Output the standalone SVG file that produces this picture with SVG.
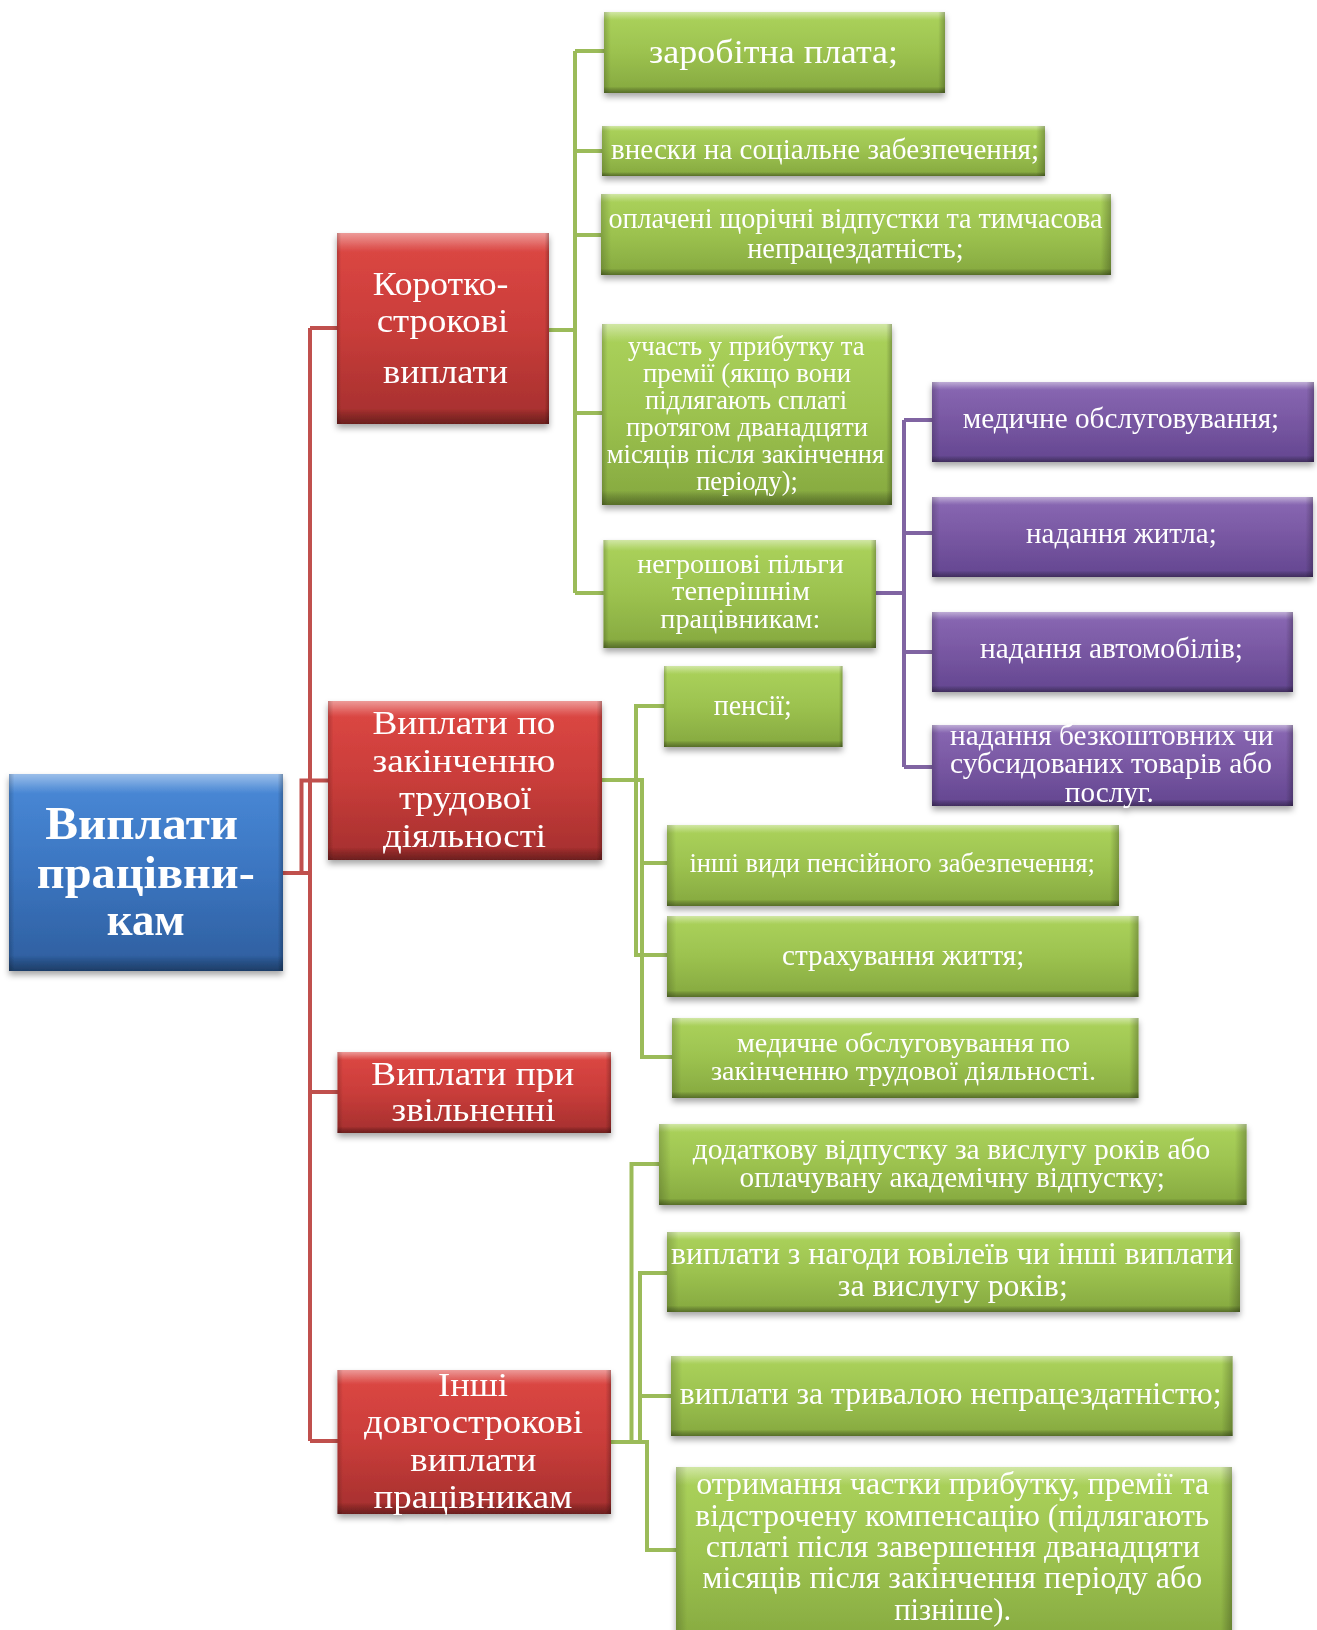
<svg xmlns="http://www.w3.org/2000/svg" width="1317" height="1630" viewBox="0 0 1317 1630">
<defs>
<linearGradient id="gG" x1="0" y1="0" x2="0" y2="1"><stop offset="0" stop-color="#acd35c"/><stop offset="0.5" stop-color="#9cc24f"/><stop offset="1" stop-color="#85a83f"/></linearGradient>
<linearGradient id="gR" x1="0" y1="0" x2="0" y2="1"><stop offset="0" stop-color="#de4844"/><stop offset="0.5" stop-color="#c93d3a"/><stop offset="1" stop-color="#a42f2e"/></linearGradient>
<linearGradient id="gB" x1="0" y1="0" x2="0" y2="1"><stop offset="0" stop-color="#4a8ad8"/><stop offset="0.5" stop-color="#3b75c0"/><stop offset="1" stop-color="#2e5e9e"/></linearGradient>
<linearGradient id="gP" x1="0" y1="0" x2="0" y2="1"><stop offset="0" stop-color="#8a69b4"/><stop offset="0.5" stop-color="#7857a2"/><stop offset="1" stop-color="#634690"/></linearGradient>
<linearGradient id="bevV" x1="0" y1="0" x2="0" y2="1"><stop offset="0" stop-color="#fff" stop-opacity="0.45"/><stop offset="0.07" stop-color="#fff" stop-opacity="0.12"/><stop offset="0.1" stop-color="#fff" stop-opacity="0"/><stop offset="0.92" stop-color="#000" stop-opacity="0"/><stop offset="0.95" stop-color="#000" stop-opacity="0.15"/><stop offset="1" stop-color="#000" stop-opacity="0.35"/></linearGradient>
<linearGradient id="bevH" x1="0" y1="0" x2="1" y2="0"><stop offset="0" stop-color="#000" stop-opacity="0.18"/><stop offset="0.02" stop-color="#000" stop-opacity="0"/><stop offset="0.98" stop-color="#000" stop-opacity="0"/><stop offset="1" stop-color="#000" stop-opacity="0.25"/></linearGradient>
<filter id="sh" x="-10%" y="-10%" width="120%" height="130%"><feDropShadow dx="0" dy="4" stdDeviation="3" flood-color="#000" flood-opacity="0.35"/></filter>
</defs>
<style>
.b{filter:url(#sh)}
.g{fill:url(#gG)} .r{fill:url(#gR)} .bl{fill:url(#gB)} .p{fill:url(#gP)}
.v{fill:url(#bevV)} .h{fill:url(#bevH)}
text{font-family:"Liberation Serif","Times New Roman",serif;fill:#fff;text-anchor:middle}
.root{font-weight:bold;font-size:46px}
.lr{stroke:#c0504d;stroke-width:4;fill:none}
.lg{stroke:#9bbb59;stroke-width:4;fill:none}
.lp{stroke:#8064a2;stroke-width:4;fill:none}
</style>

<g id="connectors">
<path class="lr" d="M310,328 V1441 M310,328 H338 M310,1092 H338 M310,1441 H338 M283,873 H310 M301.5,872 V780.5 H328"/>
<path class="lg" d="M575,51 V593 M575,51 H604 M575,151 H602 M575,235 H601 M575,413 H602 M575,593 H604 M549,330 H575"/>
<path class="lp" d="M876,593 H904 M904,420 V767 M904,420 H932 M904,533 H932 M904,652 H932 M904,767 H932"/>
<path class="lg" d="M602,780 H642 V1057 H672 M664,706 H636 V955 H667 M642,863 H667"/>
<path class="lg" d="M611,1442 H647 V1550 H676 M631.5,1442 V1164 H659 M640,1442 V1273 H667 M640,1396 H671"/>
</g>

<g id="root" class="b"><rect class="bl" x="9" y="774" width="274" height="197"/><rect class="v" x="9" y="774" width="274" height="197"/><rect class="h" x="9" y="774" width="274" height="197"/>
<text class="root" x="141.7" y="839" textLength="193" lengthAdjust="spacingAndGlyphs">Виплати</text>
<text class="root" x="145.8" y="888" textLength="218" lengthAdjust="spacingAndGlyphs">працівни-</text>
<text class="root" x="145.8" y="935" textLength="78" lengthAdjust="spacingAndGlyphs">кам</text></g>

<g id="short" class="b" font-size="33"><rect class="r" x="337" y="233" width="212" height="191"/><rect class="v" x="337" y="233" width="212" height="191"/><rect class="h" x="337" y="233" width="212" height="191"/>
<text x="440.5" y="295" textLength="135.6" lengthAdjust="spacingAndGlyphs">Коротко-</text>
<text x="442.5" y="332" textLength="131.7" lengthAdjust="spacingAndGlyphs">строкові</text>
<text x="445.5" y="383" textLength="125" lengthAdjust="spacingAndGlyphs">виплати</text></g>

<g id="post" class="b" font-size="33"><rect class="r" x="328" y="701" width="274" height="159"/><rect class="v" x="328" y="701" width="274" height="159"/><rect class="h" x="328" y="701" width="274" height="159"/>
<text x="464" y="734" textLength="183" lengthAdjust="spacingAndGlyphs">Виплати по</text>
<text x="464" y="772" textLength="183" lengthAdjust="spacingAndGlyphs">закінченню</text>
<text x="465" y="809" textLength="132" lengthAdjust="spacingAndGlyphs">трудової</text>
<text x="464.5" y="847" textLength="163" lengthAdjust="spacingAndGlyphs">діяльності</text></g>

<g id="term" class="b" font-size="33"><rect class="r" x="337.5" y="1052" width="273.5" height="81"/><rect class="v" x="337.5" y="1052" width="273.5" height="81"/><rect class="h" x="337.5" y="1052" width="273.5" height="81"/>
<text x="472.8" y="1085" textLength="203" lengthAdjust="spacingAndGlyphs">Виплати при</text>
<text x="473.5" y="1121" textLength="164" lengthAdjust="spacingAndGlyphs">звільненні</text></g>

<g id="otherlong" class="b" font-size="33"><rect class="r" x="337.5" y="1370" width="273.5" height="144"/><rect class="v" x="337.5" y="1370" width="273.5" height="144"/><rect class="h" x="337.5" y="1370" width="273.5" height="144"/>
<text x="473" y="1396" textLength="70" lengthAdjust="spacingAndGlyphs">Інші</text>
<text x="473.5" y="1433" textLength="219" lengthAdjust="spacingAndGlyphs">довгострокові</text>
<text x="473.3" y="1471" textLength="126" lengthAdjust="spacingAndGlyphs">виплати</text>
<text x="473" y="1508" textLength="199" lengthAdjust="spacingAndGlyphs">працівникам</text></g>

<g id="wage" class="b" font-size="34"><rect class="g" x="604" y="12" width="341" height="81"/><rect class="v" x="604" y="12" width="341" height="81"/><rect class="h" x="604" y="12" width="341" height="81"/>
<text x="773.6" y="63" textLength="249" lengthAdjust="spacingAndGlyphs">заробітна  плата;</text></g>

<g id="social" class="b" font-size="29"><rect class="g" x="602" y="126" width="443" height="50"/><rect class="v" x="602" y="126" width="443" height="50"/><rect class="h" x="602" y="126" width="443" height="50"/>
<text x="825" y="159" textLength="428" lengthAdjust="spacingAndGlyphs">внески на соціальне забезпечення;</text></g>

<g id="leave" class="b" font-size="29"><rect class="g" x="601" y="194" width="510" height="81"/><rect class="v" x="601" y="194" width="510" height="81"/><rect class="h" x="601" y="194" width="510" height="81"/>
<text x="855.4" y="228" textLength="494" lengthAdjust="spacingAndGlyphs">оплачені щорічні відпустки та тимчасова</text>
<text x="855.4" y="258" textLength="216.5" lengthAdjust="spacingAndGlyphs">непрацездатність;</text></g>

<g id="profit" class="b" font-size="28"><rect class="g" x="602" y="324" width="290" height="181"/><rect class="v" x="602" y="324" width="290" height="181"/><rect class="h" x="602" y="324" width="290" height="181"/>
<text x="746.3" y="355" textLength="236.6" lengthAdjust="spacingAndGlyphs">участь у прибутку  та</text>
<text x="747" y="382" textLength="208" lengthAdjust="spacingAndGlyphs">премії (якщо вони</text>
<text x="746" y="409" textLength="202" lengthAdjust="spacingAndGlyphs">підлягають сплаті</text>
<text x="747" y="436" textLength="242" lengthAdjust="spacingAndGlyphs">протягом дванадцяти</text>
<text x="745.5" y="463" textLength="277.5" lengthAdjust="spacingAndGlyphs">місяців після закінчення</text>
<text x="747" y="490" textLength="101.6" lengthAdjust="spacingAndGlyphs">періоду);</text></g>

<g id="nonmonetary" class="b" font-size="28"><rect class="g" x="603.5" y="540" width="272.5" height="108"/><rect class="v" x="603.5" y="540" width="272.5" height="108"/><rect class="h" x="603.5" y="540" width="272.5" height="108"/>
<text x="740.5" y="573" textLength="206.7" lengthAdjust="spacingAndGlyphs">негрошові пільги</text>
<text x="741" y="600" textLength="138" lengthAdjust="spacingAndGlyphs">теперішнім</text>
<text x="740.3" y="628" textLength="160" lengthAdjust="spacingAndGlyphs">працівникам:</text></g>

<g id="medical" class="b" font-size="29"><rect class="p" x="932" y="382" width="382" height="80"/><rect class="v" x="932" y="382" width="382" height="80"/><rect class="h" x="932" y="382" width="382" height="80"/>
<text x="1121" y="428" textLength="316.5" lengthAdjust="spacingAndGlyphs">медичне обслуговування;</text></g>

<g id="housing" class="b" font-size="29"><rect class="p" x="932" y="497" width="381" height="80"/><rect class="v" x="932" y="497" width="381" height="80"/><rect class="h" x="932" y="497" width="381" height="80"/>
<text x="1121.4" y="543" textLength="190.7" lengthAdjust="spacingAndGlyphs">надання житла;</text></g>

<g id="cars" class="b" font-size="29"><rect class="p" x="932" y="612" width="361" height="80"/><rect class="v" x="932" y="612" width="361" height="80"/><rect class="h" x="932" y="612" width="361" height="80"/>
<text x="1111.5" y="658" textLength="263" lengthAdjust="spacingAndGlyphs">надання автомобілів;</text></g>

<g id="goods" class="b" font-size="29"><rect class="p" x="932" y="725" width="361" height="81"/><rect class="v" x="932" y="725" width="361" height="81"/><rect class="h" x="932" y="725" width="361" height="81"/>
<text x="1111.8" y="745" textLength="323.5" lengthAdjust="spacingAndGlyphs">надання безкоштовних чи</text>
<text x="1111" y="773" textLength="322" lengthAdjust="spacingAndGlyphs">субсидованих товарів або</text>
<text x="1109.3" y="801.7" textLength="89" lengthAdjust="spacingAndGlyphs">послуг.</text></g>

<g id="pensions" class="b" font-size="29"><rect class="g" x="664" y="666" width="178.5" height="81"/><rect class="v" x="664" y="666" width="178.5" height="81"/><rect class="h" x="664" y="666" width="178.5" height="81"/>
<text x="752.7" y="715" textLength="78" lengthAdjust="spacingAndGlyphs">пенсії;</text></g>

<g id="otherpension" class="b" font-size="28"><rect class="g" x="667" y="825" width="452" height="81"/><rect class="v" x="667" y="825" width="452" height="81"/><rect class="h" x="667" y="825" width="452" height="81"/>
<text x="892.2" y="872" textLength="405.6" lengthAdjust="spacingAndGlyphs">інші види пенсійного забезпечення;</text></g>

<g id="life" class="b" font-size="30"><rect class="g" x="667" y="916" width="471.5" height="81"/><rect class="v" x="667" y="916" width="471.5" height="81"/><rect class="h" x="667" y="916" width="471.5" height="81"/>
<text x="903.2" y="965" textLength="242.4" lengthAdjust="spacingAndGlyphs">страхування життя;</text></g>

<g id="postmedical" class="b" font-size="28"><rect class="g" x="672" y="1018" width="466.5" height="80"/><rect class="v" x="672" y="1018" width="466.5" height="80"/><rect class="h" x="672" y="1018" width="466.5" height="80"/>
<text x="903.5" y="1052" textLength="333" lengthAdjust="spacingAndGlyphs">медичне обслуговування по</text>
<text x="903.5" y="1080" textLength="385" lengthAdjust="spacingAndGlyphs">закінченню трудової діяльності.</text></g>

<g id="sabbatical" class="b" font-size="29"><rect class="g" x="659" y="1124" width="587.6" height="81"/><rect class="v" x="659" y="1124" width="587.6" height="81"/><rect class="h" x="659" y="1124" width="587.6" height="81"/>
<text x="951.6" y="1159" textLength="517.6" lengthAdjust="spacingAndGlyphs">додаткову відпустку за вислугу років або</text>
<text x="952.3" y="1187" textLength="425.4" lengthAdjust="spacingAndGlyphs">оплачувану академічну відпустку;</text></g>

<g id="jubilee" class="b" font-size="31"><rect class="g" x="667" y="1232" width="573" height="80"/><rect class="v" x="667" y="1232" width="573" height="80"/><rect class="h" x="667" y="1232" width="573" height="80"/>
<text x="952.3" y="1264" textLength="562.5" lengthAdjust="spacingAndGlyphs">виплати  з нагоди  ювілеїв  чи  інші  виплати</text>
<text x="952.8" y="1296" textLength="230" lengthAdjust="spacingAndGlyphs">за вислугу років;</text></g>

<g id="disability" class="b" font-size="32"><rect class="g" x="671" y="1356" width="561.6" height="80"/><rect class="v" x="671" y="1356" width="561.6" height="80"/><rect class="h" x="671" y="1356" width="561.6" height="80"/>
<text x="950.6" y="1404" textLength="541.8" lengthAdjust="spacingAndGlyphs">виплати за тривалою непрацездатністю;</text></g>

<g id="deferred" class="b" font-size="32"><rect class="g" x="676" y="1467" width="556" height="180"/><rect class="v" x="676" y="1467" width="556" height="180"/><rect class="h" x="676" y="1467" width="556" height="180"/>
<text x="952.7" y="1494" textLength="513" lengthAdjust="spacingAndGlyphs">отримання частки прибутку, премії та</text>
<text x="952.2" y="1526" textLength="514" lengthAdjust="spacingAndGlyphs">відстрочену компенсацію (підлягають</text>
<text x="952.8" y="1557" textLength="494" lengthAdjust="spacingAndGlyphs">сплаті  після  завершення  дванадцяти</text>
<text x="952.2" y="1588" textLength="500" lengthAdjust="spacingAndGlyphs">місяців  після  закінчення  періоду  або</text>
<text x="952.7" y="1620" textLength="117" lengthAdjust="spacingAndGlyphs">пізніше).</text></g>
</svg>
